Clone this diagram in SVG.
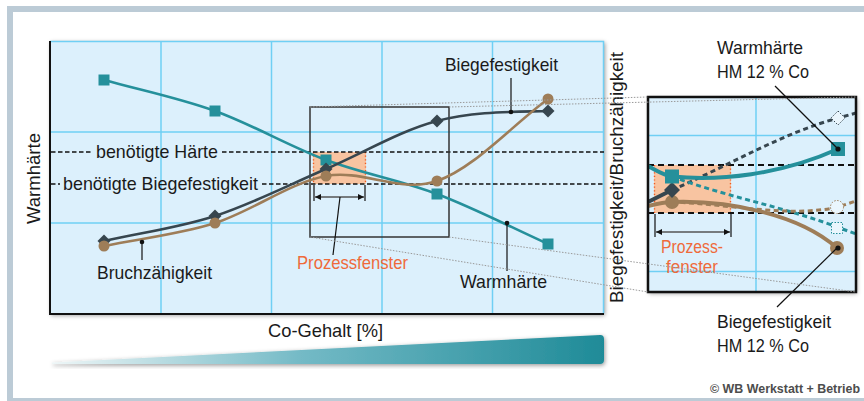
<svg xmlns="http://www.w3.org/2000/svg" width="864" height="401" viewBox="0 0 864 401">
  <defs>
    <style>
      text{font-family:"Liberation Sans",Arial,sans-serif;font-size:19px;fill:#1a1a1a}
      .grid{stroke:#6fcff4;stroke-width:1.5;fill:none}
      .req{stroke:#111;stroke-width:1.4;stroke-dasharray:4.5 2.5;fill:none}
      .req2{stroke:#111;stroke-width:2.2;stroke-dasharray:6 4;fill:none}
      .lead{stroke:#111;stroke-width:1.2;fill:none}
      .call{stroke:#9a9a9a;stroke-width:1;stroke-dasharray:1.5 1.5;fill:none}
      .win{fill:#f8c4a1}
      .winedge{stroke:#f05a22;stroke-width:1.4;stroke-dasharray:1.2 2.4;fill:none}
      .dim{stroke:#555;stroke-width:1.5;fill:none}
      .tick{stroke:#111;stroke-width:1.2;fill:none}
      .teal{stroke:#25909b;fill:none}
      .dark{stroke:#37464f;fill:none}
      .brown{stroke:#9e7d58;fill:none}
      .orange{fill:#ef6a3a}
      .small{font-size:18px}
      .sq{fill:#25909b}
      .dia{fill:#37464f}
      .dot{fill:#9e7d58}
      .credit{font-size:12px;font-weight:bold;fill:#4d4d4d}
    </style>
    <filter id="shadow" x="-10%" y="-10%" width="120%" height="125%">
      <feDropShadow dx="1" dy="1.5" stdDeviation="2" flood-color="#000" flood-opacity="0.4"/>
    </filter>
    <linearGradient id="wedge" x1="52" y1="0" x2="604" y2="0" gradientUnits="userSpaceOnUse">
      <stop offset="0" stop-color="#eef6f7"/>
      <stop offset="0.45" stop-color="#74bac6"/>
      <stop offset="1" stop-color="#1f8b98"/>
    </linearGradient>
    <marker id="arr" viewBox="0 0 6 6" refX="6" refY="3" markerWidth="6" markerHeight="6" markerUnits="userSpaceOnUse" orient="auto-start-reverse">
      <path d="M0,0L6,3L0,6z" fill="#111"/>
    </marker>
    <clipPath id="insetClip">
      <rect x="648" y="97" width="208" height="195"/>
    </clipPath>
  </defs>

  <!-- outer frame -->
  <rect x="0" y="0" width="864" height="401" fill="#fff"/>
  <path d="M7,6H864V12H13V398H864V401H7Z" fill="#bccbd6"/>

  <!-- main chart -->
  <g id="main-chart">
    <rect x="50" y="41" width="554" height="273" fill="#dcf0fc" filter="url(#shadow)"/>
    <path class="grid" d="M161,41V314M271.5,41V314M382,41V314M492.5,41V314M50,132H604M50,223H604M50,41.5H603.5V314"/>
    <path d="M50,41V314H604" stroke="#111" stroke-width="2" fill="none"/>

    <!-- process window -->
    <rect class="win" x="313" y="152" width="53" height="32"/>
    <path class="winedge" d="M313.5,152V184M365.5,152V184"/>

    <!-- required levels -->
    <path class="req" d="M51,152H92M222,152H604"/>
    <path class="req" d="M51,184H60M262,184H604"/>
    <text x="96" y="158" textLength="122" lengthAdjust="spacingAndGlyphs">benötigte Härte</text>
    <text x="63" y="190" textLength="195" lengthAdjust="spacingAndGlyphs">benötigte Biegefestigkeit</text>

    <!-- window width -->
    <path class="tick" d="M314,185V201M365,185V201"/>
    <path class="dim" d="M315,197H364" marker-start="url(#arr)" marker-end="url(#arr)"/>

    <!-- zoomed region -->
    <rect x="310" y="107" width="139" height="130" fill="none" stroke="#333" stroke-width="1.5"/>
  </g>

  <g id="curve-warmhaerte">
    <path class="teal" stroke-width="2.6" d="M104,80C141,90.3 178,97.7 215,111C252,124.3 289,146.2 326,160C363,173.8 400,180 437,194C474,208 511,227.3 548,244"/>
    <rect class="sq" x="98.5" y="74.5" width="11" height="11"/>
    <rect class="sq" x="209.5" y="105.5" width="11" height="11"/>
    <rect class="sq" x="320.5" y="154.5" width="11" height="11"/>
    <rect class="sq" x="431.5" y="188.5" width="11" height="11"/>
    <rect class="sq" x="542.5" y="238.5" width="11" height="11"/>
  </g>

  <g id="curve-biegefestigkeit">
    <path class="dark" stroke-width="2.6" d="M104,241C141,232.7 178,228 215,216C252,204 289,184.8 326,169C363,153.2 400,130.7 437,121C474,111.3 511,112 548,111"/>
    <path class="dia" d="M104,234.5l6.5,6.5l-6.5,6.5l-6.5,-6.5z"/>
    <path class="dia" d="M215,209.5l6.5,6.5l-6.5,6.5l-6.5,-6.5z"/>
    <path class="dia" d="M326,162.5l6.5,6.5l-6.5,6.5l-6.5,-6.5z"/>
    <path class="dia" d="M437,114.5l6.5,6.5l-6.5,6.5l-6.5,-6.5z"/>
    <path class="dia" d="M548,104.5l6.5,6.5l-6.5,6.5l-6.5,-6.5z"/>
  </g>

  <g id="curve-bruchzaehigkeit">
    <path class="brown" stroke-width="2.6" d="M104,246C141,238.3 178,234.7 215,223C252,211.3 289,183 326,176C363,169 400,193.8 437,181C474,168.2 511,126.3 548,99"/>
    <circle class="dot" cx="104" cy="246" r="5.5"/>
    <circle class="dot" cx="215" cy="223" r="5.5"/>
    <circle class="dot" cx="326" cy="176" r="5.5"/>
    <circle class="dot" cx="437" cy="181" r="5.5"/>
    <circle class="dot" cx="548" cy="99" r="5.5"/>
  </g>

  <!-- curve labels -->
  <g id="label-biegefestigkeit">
    <path class="lead" d="M511,78V112"/>
    <circle cx="511" cy="112" r="2.3" fill="#111"/>
    <text x="445" y="71" textLength="113" lengthAdjust="spacingAndGlyphs">Biegefestigkeit</text>
  </g>
  <g id="label-bruchzaehigkeit">
    <path class="lead" d="M142,242V260"/>
    <circle cx="142" cy="242" r="2.3" fill="#111"/>
    <text x="97" y="279" textLength="115" lengthAdjust="spacingAndGlyphs">Bruchzähigkeit</text>
  </g>
  <g id="label-warmhaerte">
    <path class="lead" d="M507,223V271"/>
    <circle cx="507" cy="223" r="2.3" fill="#111"/>
    <text x="460" y="288" textLength="87" lengthAdjust="spacingAndGlyphs">Warmhärte</text>
  </g>
  <g id="label-prozessfenster">
    <path class="lead" d="M340,197L333,255"/>
    <text class="orange" x="297" y="269" textLength="111" lengthAdjust="spacingAndGlyphs">Prozessfenster</text>
  </g>

  <!-- axes -->
  <g id="axis-labels">
    <text x="268" y="337" textLength="115" lengthAdjust="spacingAndGlyphs">Co-Gehalt [%]</text>
    <text transform="translate(40,224) rotate(-90)" textLength="91" lengthAdjust="spacingAndGlyphs">Warmhärte</text>
    <text transform="translate(623,303) rotate(-90)" textLength="251" lengthAdjust="spacingAndGlyphs">Biegefestigkeit/Bruchzähigkeit</text>
  </g>

  <!-- rising Co content wedge -->
  <path id="co-wedge" d="M52,362.5L600,335Q604,334.8 604,339V360Q604,364 600,364H52Z" fill="url(#wedge)" filter="url(#shadow)"/>

  <!-- detail view HM 12 % Co -->
  <g id="inset">
    <rect x="648" y="97" width="208" height="195" fill="#dcf0fc" filter="url(#shadow)"/>
    <g clip-path="url(#insetClip)">
      <path class="grid" d="M756,97V292M648,135.5H856M648,271.5H856"/>
      <rect class="win" x="654" y="165" width="77" height="48"/>
      <path class="winedge" d="M654.5,165V213M730.5,165V213"/>
      <path class="req2" d="M648,165H856M648,213H856"/>
      <path class="tick" d="M655,214V237M731,214V237"/>
      <path class="dim" d="M656,232H730" marker-start="url(#arr)" marker-end="url(#arr)"/>
      <text class="orange small" x="661" y="253" textLength="62" lengthAdjust="spacingAndGlyphs">Prozess-</text>
      <text class="orange small" x="666" y="273" textLength="52" lengthAdjust="spacingAndGlyphs">fenster</text>

      <!-- extensions of the main curves -->
      <path class="dark" stroke-width="3" stroke-dasharray="5 3.5" d="M672,190C727.5,166.3 783,132.6 838.5,118L856,113"/>
      <path class="teal" stroke-width="3" stroke-dasharray="5 3.5" d="M672,176.5C727.5,197.2 783,206.5 838.5,227.5L856,234"/>
      <path class="brown" stroke-width="3" stroke-dasharray="5 3.5" d="M672,202C730,204 790,218 838,207L856,201"/>
      <path d="M838,111l7,7l-7,7l-7,-7z" fill="#eaf6fd" stroke="#37464f" stroke-width="1" stroke-dasharray="1.5 1.5"/>
      <rect x="831.5" y="222.5" width="11" height="11" fill="#eaf6fd" stroke="#25909b" stroke-width="1" stroke-dasharray="1.5 1.5"/>
      <circle cx="837" cy="207" r="6.5" fill="#eaf6fd" stroke="#9e7d58" stroke-width="1" stroke-dasharray="1.5 1.5"/>

      <!-- HM 12 % Co curves -->
      <path class="dark" stroke-width="4" d="M648,202L672,190"/>
      <path class="brown" stroke-width="4" d="M648,206C656,204 664,202 672,202C730,200 800,215 837,248"/>
      <path class="teal" stroke-width="4" d="M648,166C656,170 663,175 672,176.5C720,181 780,175 838,149"/>
      <circle class="dot" cx="672" cy="202" r="7"/>
      <path class="dia" d="M672,182l8,8l-8,8l-8,-8z"/>
      <rect class="sq" x="665" y="169.5" width="14" height="14"/>
      <rect class="sq" x="831" y="142" width="14" height="14"/>
      <circle cx="838" cy="149" r="2.6" fill="#111"/>
      <circle class="dot" cx="837" cy="248" r="7"/>
      <circle cx="838" cy="248" r="2.6" fill="#111"/>
    </g>
    <rect x="648" y="97" width="208" height="195" fill="none" stroke="#111" stroke-width="2.5"/>
  </g>

  <g id="label-warmhaerte-hm12">
    <path class="lead" d="M775,86L838,149"/>
    <text x="717" y="54" textLength="86" lengthAdjust="spacingAndGlyphs">Warmhärte</text>
    <text x="717" y="78" textLength="92" lengthAdjust="spacingAndGlyphs">HM 12 % Co</text>
  </g>
  <g id="label-biegefestigkeit-hm12">
    <path class="lead" d="M777,307L837,248"/>
    <text x="717" y="328" textLength="114" lengthAdjust="spacingAndGlyphs">Biegefestigkeit</text>
    <text x="717" y="352" textLength="92" lengthAdjust="spacingAndGlyphs">HM 12 % Co</text>
  </g>

  <!-- connectors between zoom box and detail view -->
  <g id="connectors">
    <path class="call" d="M310,107L648,97"/>
    <path class="call" d="M449,107L856,97"/>
    <path class="call" d="M310,237L648,292"/>
    <path class="call" d="M449,237L856,292"/>
  </g>

  <text class="credit" x="710" y="393" textLength="150" lengthAdjust="spacingAndGlyphs">© WB Werkstatt + Betrieb</text>
</svg>
